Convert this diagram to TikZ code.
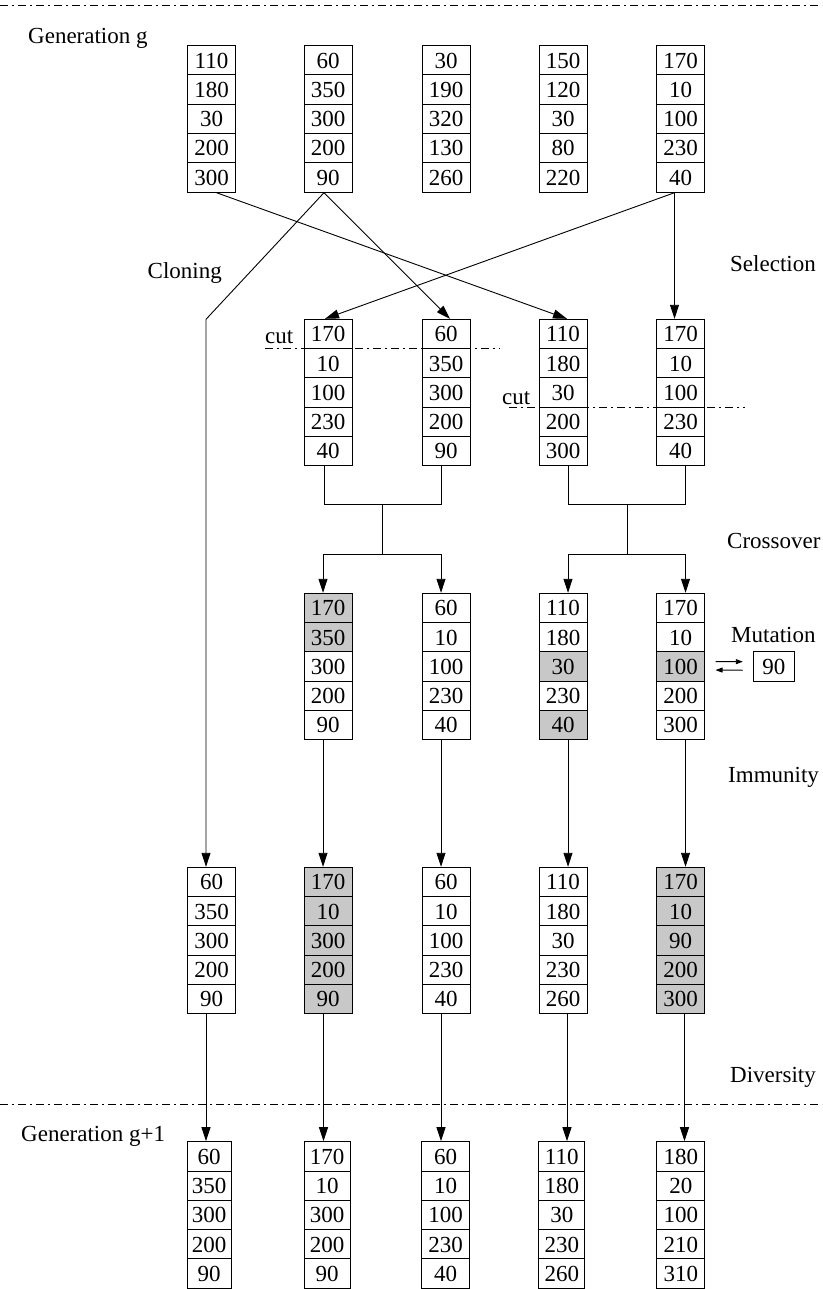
\documentclass[tikz,border=0pt]{standalone}
\usepackage{fontspec}
\setmainfont{Liberation Serif}
\usetikzlibrary{arrows.meta,calc}
\definecolor{cg}{RGB}{200,200,200}
\tikzset{
  cell/.style={draw,line width=1pt,minimum width=48pt,minimum height=29.3pt,inner sep=0pt,
    text height=15.5pt,text depth=0pt,font=\fontsize{23}{27}\selectfont},
  lbl/.style={inner sep=0pt,font=\fontsize{23}{27}\selectfont},
  conn/.style={line width=0.9pt},
  arr/.style={line width=0.9pt,-{Triangle[length=14pt,width=9pt]}},
  sarr/.style={line width=0.9pt,-{Triangle[length=7pt,width=5pt]}},
  dashdot/.style={line width=0.8pt,dash pattern=on 8pt off 4pt on 2pt off 4pt}
}
\newcommand{\chromo}[5][48pt]{%
  \foreach \v/\f [count=\i] in {#5} {
    \node[cell,minimum width=#1,fill=\f] (#2-\i) at (#3,{#4+(\i-0.5)*29.3}) {\v};
  }}
\begin{document}
\begin{tikzpicture}[x=1pt,y=-1pt]
\useasboundingbox (0,0) rectangle (822,1289);
% separators
\draw[dashdot] (0,5) -- (822,5);
\draw[dashdot] (0,1104) -- (822,1104);
% labels
\node[lbl,anchor=base west] (lg) at (28,44) {Generation g};
\node[lbl,anchor=base east] (lclone) at (222,278) {Cloning};
\node[lbl,anchor=base west] (lsel) at (730,271) {Selection};
\node[lbl,anchor=base west] (lcross) at (727,548) {Crossover};
\node[lbl,anchor=base west] (lmut) at (731,642) {Mutation};
\node[lbl,anchor=base west] (limm) at (728,782) {Immunity};
\node[lbl,anchor=base west] (ldiv) at (730,1082) {Diversity};
\node[lbl,anchor=base west] (lg1) at (21,1141) {Generation g+1};
% generation g
\chromo{A1}{211.5}{45.7}{110/white,180/white,30/white,200/white,300/white}
\chromo{A2}{328}{45.7}{60/white,350/white,300/white,200/white,90/white}
\chromo{A3}{446}{45.7}{30/white,190/white,320/white,130/white,260/white}
\chromo{A4}{563}{45.7}{150/white,120/white,30/white,80/white,220/white}
\chromo{A5}{680.5}{45.7}{170/white,10/white,100/white,230/white,40/white}
% selection
\chromo{S2}{328}{319.3}{170/white,10/white,100/white,230/white,40/white}
\chromo{S3}{446}{319.3}{60/white,350/white,300/white,200/white,90/white}
\chromo{S4}{563}{319.3}{110/white,180/white,30/white,200/white,300/white}
\chromo{S5}{680.5}{319.3}{170/white,10/white,100/white,230/white,40/white}
% cuts
\node[lbl,anchor=base west] (cut1) at (265,343) {cut};
\node[lbl,anchor=base west] (cut2) at (502,404) {cut};
\draw[dashdot] (265,348.6) -- (500,348.6);
\draw[dashdot] (509,407.2) -- (745,407.2);
% mutation row
\chromo{M2}{328}{593.3}{170/cg,350/cg,300/white,200/white,90/white}
\chromo{M3}{446}{593.3}{60/white,10/white,100/white,230/white,40/white}
\chromo{M4}{563}{593.3}{110/white,180/white,30/cg,230/white,40/cg}
\chromo{M5}{680.5}{593.3}{170/white,10/white,100/cg,200/white,300/white}
\node[cell,minimum width=41pt,minimum height=30pt] (mut) at (773.8,666.7) {90};
\draw[sarr] ($(M5-3.east)+(10.5,-5)$) -- ($(mut.west)+(-10,-5)$);
\draw[sarr] ($(mut.west)+(-10,3.5)$) -- ($(M5-3.east)+(10.5,3.5)$);
% immunity row
\chromo{I1}{211.5}{867.3}{60/white,350/white,300/white,200/white,90/white}
\chromo{I2}{328}{867.3}{170/cg,10/cg,300/cg,200/cg,90/cg}
\chromo{I3}{446}{867.3}{60/white,10/white,100/white,230/white,40/white}
\chromo{I4}{563}{867.3}{110/white,180/white,30/white,230/white,260/white}
\chromo{I5}{680.5}{867.3}{170/cg,10/cg,90/cg,200/cg,300/cg}
% generation g+1
\chromo[44pt]{N1}{209}{1141.7}{60/white,350/white,300/white,200/white,90/white}
\chromo[46pt]{N2}{327}{1141.7}{170/white,10/white,300/white,200/white,90/white}
\chromo[48pt]{N3}{445.6}{1141.7}{60/white,10/white,100/white,230/white,40/white}
\chromo[46pt]{N4}{561.8}{1141.7}{110/white,180/white,30/white,230/white,260/white}
\chromo[48pt]{N5}{680.8}{1141.7}{180/white,20/white,100/white,210/white,310/white}
% selection connectors
\draw[arr] ($(A1-5.south)+(5,0)$) -- ($(S4-1.north)+(4,0)$);
\draw[arr] ($(A2-5.south)+(-4,0)$) -- ($(S3-1.north)+(4,0)$);
\draw[arr] ($(A5-5.south)+(-6,0)$) -- ($(S5-1.north)+(-6,0)$);
\draw[arr] ($(A5-5.south)+(-6,0)$) -- ($(S2-1.north)+(-3,0)$);
% cloning
\coordinate (cb) at (206,319.3);
\draw[arr] ($(A2-5.south)+(-4,0)$) -- (cb) -- ($(I1-1.north)+(-5.5,0)$);
% crossover
\coordinate (xl) at (382,504.3);
\coordinate (xl2) at (382,554.3);
\draw[conn] ($(S2-5.south)+(-4,0)$) |- (xl) -| ($(S3-5.south)+(-5,0)$);
\draw[conn] (xl) -- (xl2);
\draw[arr] (xl2) -| ($(M2-1.north)+(-5,0)$);
\draw[arr] (xl2) -| ($(M3-1.north)+(-5,0)$);
\coordinate (xr) at (627,504.3);
\coordinate (xr2) at (627,554.3);
\draw[conn] ($(S4-5.south)+(5,0)$) |- (xr) -| ($(S5-5.south)+(5,0)$);
\draw[conn] (xr) -- (xr2);
\draw[arr] (xr2) -| ($(M4-1.north)+(5,0)$);
\draw[arr] (xr2) -| ($(M5-1.north)+(5,0)$);
% immunity
\draw[arr] ($(M2-5.south)+(-5,0)$) -- ($(I2-1.north)+(-5,0)$);
\draw[arr] ($(M3-5.south)+(-5,0)$) -- ($(I3-1.north)+(-5,0)$);
\draw[arr] ($(M4-5.south)+(5,0)$) -- ($(I4-1.north)+(5,0)$);
\draw[arr] ($(M5-5.south)+(5,0)$) -- ($(I5-1.north)+(5,0)$);
% diversity
\draw[arr] ($(I1-5.south)+(-5.5,0)$) -- ($(N1-1.north)+(-3,0)$);
\draw[arr] ($(I2-5.south)+(-4.5,0)$) -- ($(N2-1.north)+(-3.5,0)$);
\draw[arr] ($(I3-5.south)+(-5,0)$) -- ($(N3-1.north)+(-4.6,0)$);
\draw[arr] ($(I4-5.south)+(4,0)$) -- ($(N4-1.north)+(5.2,0)$);
\draw[arr] ($(I5-5.south)+(4,0)$) -- ($(N5-1.north)+(3.7,0)$);
\end{tikzpicture}
\end{document}
